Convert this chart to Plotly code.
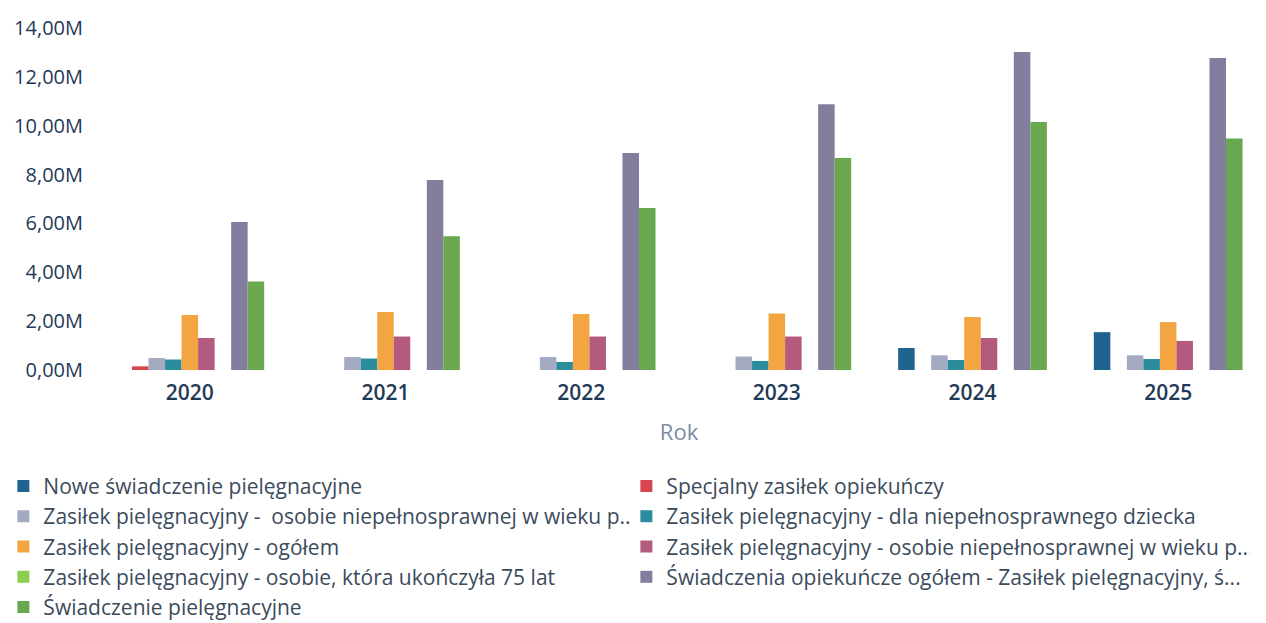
import plotly.graph_objects as go

# Lata (oś X)
years = ["2020", "2021", "2022", "2023", "2024", "2025"]

# Nazwy serii w kolejności rysowania
series_names = [
    "Nowe świadczenie pielęgnacyjne",
    "Specjalny zasiłek opiekuńczy",
    "Zasiłek pielęgnacyjny -  osobie niepełnosprawnej w wieku p..",
    "Zasiłek pielęgnacyjny - dla niepełnosprawnego dziecka",
    "Zasiłek pielęgnacyjny - ogółem",
    "Zasiłek pielęgnacyjny - osobie niepełnosprawnej w wieku p...",
    "Zasiłek pielęgnacyjny - osobie, która ukończyła 75 lat",
    "Świadczenia opiekuńcze ogółem - Zasiłek pielęgnacyjny, ś...",
    "Świadczenie pielęgnacyjne",
]

# Wartości serii (w milionach)
nowe_swiadczenie = [None, None, None, None, 0.90, 1.55]
specjalny_zasilek = [0.15, None, None, None, None, None]
zasilek_wiek_p_a = [0.49, 0.53, 0.53, 0.55, 0.60, 0.60]
zasilek_dziecko = [0.43, 0.47, 0.33, 0.37, 0.41, 0.45]
zasilek_ogolem = [2.25, 2.37, 2.29, 2.31, 2.17, 1.96]
zasilek_wiek_p_b = [1.31, 1.37, 1.37, 1.37, 1.31, 1.19]
zasilek_75_lat = [None, None, None, None, None, None]
swiadczenia_ogolem = [6.06, 7.78, 8.88, 10.88, 13.02, 12.77]
swiadczenie_pielegnacyjne = [3.62, 5.48, 6.63, 8.68, 10.15, 9.48]

series_values = [
    nowe_swiadczenie,
    specjalny_zasilek,
    zasilek_wiek_p_a,
    zasilek_dziecko,
    zasilek_ogolem,
    zasilek_wiek_p_b,
    zasilek_75_lat,
    swiadczenia_ogolem,
    swiadczenie_pielegnacyjne,
]

series_colors = [
    "#1f6391",
    "#d64550",
    "#a3aac2",
    "#2b8c9e",
    "#f2a541",
    "#b55a7f",
    "#8ccf4d",
    "#837e9e",
    "#6aa84f",
]

# Etykiety osi Y
y_tick_values = [0, 2, 4, 6, 8, 10, 12, 14]
y_tick_labels = ["0,00M", "2,00M", "4,00M", "6,00M", "8,00M", "10,00M", "12,00M", "14,00M"]

fig = go.Figure()
for name, vals, color in zip(series_names, series_values, series_colors):
    y = [None if v is None else v * 1e6 for v in vals]
    fig.add_trace(go.Bar(name=name, x=years, y=y, marker_color=color,
                         marker_line_width=0))

text_color = "#1f3a56"

fig.update_layout(
    width=1266,
    height=623,
    barmode="group",
    bargap=0.24,
    bargroupgap=0.0,
    plot_bgcolor="white",
    paper_bgcolor="white",
    margin=dict(l=92, r=0, t=28, b=253, autoexpand=False),
    font=dict(family="Open Sans, Noto Sans, sans-serif", color=text_color),
    xaxis=dict(
        type="category",
        showgrid=False,
        showline=False,
        ticks="",
        tickfont=dict(size=21, color=text_color, weight=600),
        ticklabelstandoff=8,
        title=dict(text="Rok", font=dict(size=22, color="#7a8ca3"), standoff=19),
    ),
    yaxis=dict(
        range=[0, 14e6],
        tickvals=[v * 1e6 for v in y_tick_values],
        ticktext=y_tick_labels,
        showgrid=False,
        zeroline=False,
        showline=False,
        ticks="",
        tickfont=dict(size=20, color=text_color),
        ticklabelstandoff=8,
    ),
    # Legenda w dwóch kolumnach pod wykresem (x < 0 pozwala zająć całą szerokość)
    legend=dict(
        orientation="h",
        x=-0.0755,
        y=-0.28,
        xanchor="left",
        yanchor="top",
        entrywidth=578,
        entrywidthmode="pixels",
        font=dict(size=21, color="#3b4b5c"),
        itemsizing="constant",
        tracegroupgap=0,
    ),
    showlegend=True,
)

fig.write_html("out.html")
